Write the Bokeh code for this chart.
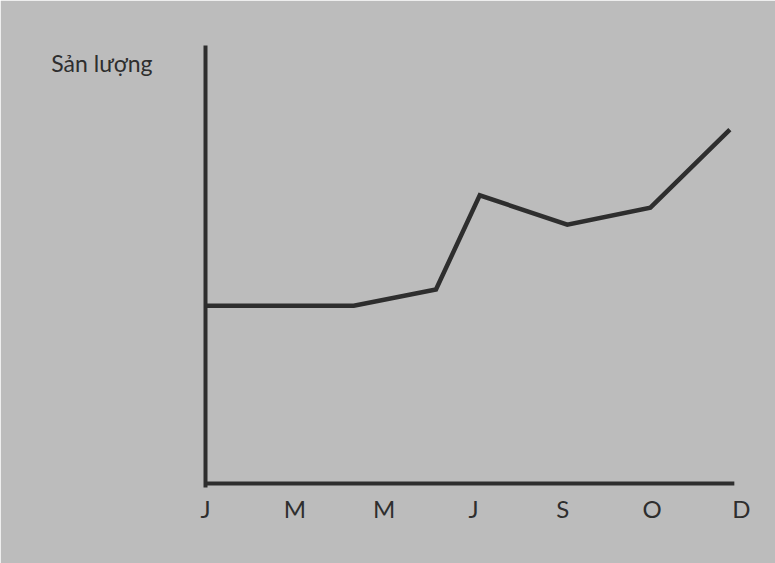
from bokeh.plotting import figure
from bokeh.models import Range1d, FixedTicker
from bokeh.embed import file_html
from bokeh.resources import INLINE

# Tick labels (months) at positions 0..6
month_labels = ["J", "M", "M", "J", "S", "O", "D"]
month_pos = [0, 1, 2, 3, 4, 5, 6]

# Output line (Sản lượng), x in month-tick units, y on 0-100 scale
line_x = [0.0, 1.66, 2.58, 3.07, 4.05, 4.98, 5.87]
line_y = [40.6, 40.6, 44.3, 65.8, 59.1, 63.0, 80.8]

# Y label shown as a single horizontal tick label near the top of the axis
y_label = "Sản lượng"
y_label_pos = 96.0

BG = "#bcbcbc"
INK = "#2e2e2e"
FONT = "Lato"

p = figure(width=775, height=563, output_backend="svg", toolbar_location=None,
           x_range=Range1d(0, 6.045), y_range=Range1d(-0.9, 100),
           min_border_left=205, min_border_right=30, min_border_top=45, min_border_bottom=76)
p.background_fill_color = BG
p.border_fill_color = BG
p.outline_line_color = BG
p.outline_line_width = 2
p.xgrid.visible = False
p.ygrid.visible = False

# Left axis: line plus the horizontal "Sản lượng" label
p.yaxis.ticker = FixedTicker(ticks=[y_label_pos])
p.yaxis.major_label_overrides = {y_label_pos: y_label}
p.yaxis.axis_line_width = 4
p.yaxis.axis_line_color = INK
p.yaxis.major_tick_line_color = None
p.yaxis.minor_tick_line_color = None
p.yaxis.major_label_text_font = FONT
p.yaxis.major_label_text_font_size = "23px"
p.yaxis.major_label_text_color = INK
p.yaxis.major_label_standoff = 47

# Bottom axis: labels only; baseline drawn as a line glyph
p.xaxis.ticker = FixedTicker(ticks=month_pos)
p.xaxis.major_label_overrides = {pos: lab for pos, lab in zip(month_pos, month_labels)}
p.xaxis.axis_line_color = None
p.xaxis.major_tick_line_color = None
p.xaxis.minor_tick_line_color = None
p.xaxis.major_label_text_font = FONT
p.xaxis.major_label_text_font_size = "24px"
p.xaxis.major_label_text_color = INK
p.xaxis.major_label_standoff = 0

p.line(x=[line_x[0], line_x[-1] + 0.05], y=[0, 0], line_width=4, line_color=INK)
p.line(x=line_x, y=line_y, line_width=4.5, line_color=INK, line_join="miter")

open("out.html", "w").write(file_html(p, INLINE))
